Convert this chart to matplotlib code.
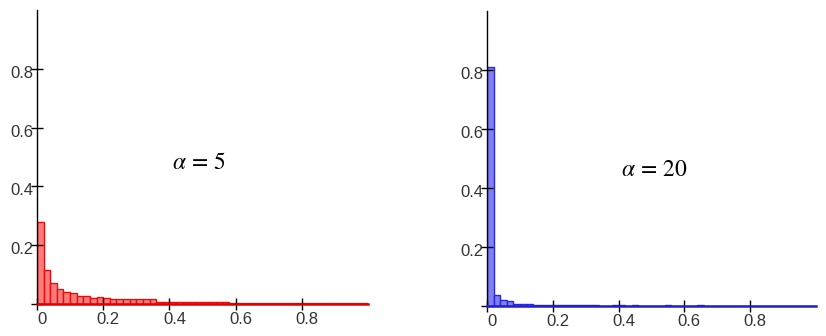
import matplotlib.pyplot as plt
import matplotlib.transforms as mtransforms
import numpy as np

plt.rcParams['font.family'] = ['Liberation Sans', 'DejaVu Sans']
plt.rcParams['mathtext.fontset'] = 'stix'

# bin edges shared by both histograms (width 0.02 on [0, 1])
bin_edges = np.linspace(0, 1, 51)

# alpha = 5 (red)
heights_a5 = ([0.28, 0.115, 0.073, 0.052, 0.041, 0.038, 0.028, 0.027, 0.021, 0.024, 0.021]
              + [0.017] * 7 + [0.007] * 11 + [0.002] * 21)

# alpha = 20 (blue)
heights_a20 = [0.81, 0.038, 0.021, 0.016, 0.008, 0.008, 0.008] + [0.005] * 10 + [0.0] * 33
for i in (19, 20, 22, 27, 32):
    heights_a20[i] = 0.004

xticks = [0, 0.2, 0.4, 0.6, 0.8]
xticklabels = ['0', '0.2', '0.4', '0.6', '0.8']
yticks = [0, 0.2, 0.4, 0.6, 0.8]
yticklabels = ['', '0.2', '0.4', '0.6', '0.8']

fig = plt.figure(figsize=(8.26, 3.36), dpi=100)
ax1 = fig.add_axes([0.0448, 0.0952, 0.4007, 0.875])
ax2 = fig.add_axes([0.5896, 0.0893, 0.398, 0.878])

panels = [
    (ax1, heights_a5, '#ff7a7a', '#e01010', '#e00000', r'$\alpha\,=\,5$', 0.49, 0.48),
    (ax2, heights_a20, '#8080f4', '#2828d8', '#2020d0', r'$\alpha\,=\,20$', 0.51, 0.46),
]

for ax, h, face, edge, spine_col, label, tx, ty in panels:
    ax.bar(bin_edges[:-1], h, width=0.02, align='edge', color=face,
           edgecolor=edge, linewidth=1.0)
    ax.set_xlim(0, 1)
    ax.set_ylim(0, 1)
    ax.spines['top'].set_visible(False)
    ax.spines['right'].set_visible(False)
    ax.spines['bottom'].set_color(spine_col)
    ax.spines['bottom'].set_linewidth(1.8)
    ax.spines['left'].set_color('black')
    ax.spines['left'].set_linewidth(1.0)
    ax.set_xticks(xticks)
    ax.set_xticklabels(xticklabels)
    ax.set_yticks(yticks)
    ax.set_yticklabels(yticklabels)
    ax.tick_params(axis='both', direction='inout', length=8, width=1,
                   color='black', labelsize=12, labelcolor='#333333', pad=0)
    ax.tick_params(axis='x', pad=2)
    offset = mtransforms.ScaledTranslation(5 / 100, 0, fig.dpi_scale_trans)
    for lab in ax.get_xticklabels():
        lab.set_transform(lab.get_transform() + offset)
    offset_y = mtransforms.ScaledTranslation(2 / 100, -3 / 100, fig.dpi_scale_trans)
    for lab in ax.get_yticklabels():
        lab.set_transform(lab.get_transform() + offset_y)
    ax.text(tx, ty, label, transform=ax.transAxes, ha='center', va='center',
            fontsize=17, color='black')

fig.savefig('out.png', dpi=100)
